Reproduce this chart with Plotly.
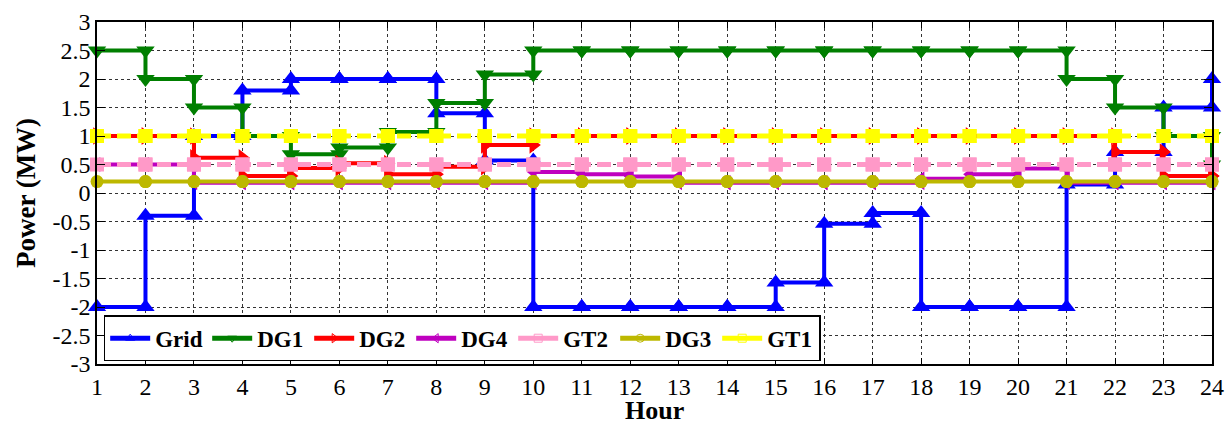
import plotly.graph_objects as go

hours = list(range(1, 25))

grid = [-2, -0.4, 1.0, 1.8, 2, 2, 2, 1.4, 0.57, -2, -2, -2, -2, -2, -1.57, -0.54,
        -0.35, -2, -2, -2, 0.15, 0.72, 1.5, 2.0]
dg1 = [2.5, 2.0, 1.5, 1.0, 0.68, 0.8, 1.07, 1.58, 2.08, 2.5, 2.5, 2.5, 2.5, 2.5, 2.5,
       2.5, 2.5, 2.5, 2.5, 2.5, 2.0, 1.5, 1.0, 0.5]
dg2 = [1.0, 1.0, 0.62, 0.3, 0.44, 0.52, 0.33, 0.46, 0.84, 1.0, 1.0, 1.0, 1.0, 1.0, 1.0,
       1.0, 1.0, 1.0, 1.0, 1.0, 1.0, 0.72, 0.3, 0.3]
dg4 = [0.5, 0.5, 0.18, 0.18, 0.18, 0.18, 0.18, 0.18, 0.18, 0.37, 0.33, 0.29, 0.18, 0.18,
       0.18, 0.18, 0.18, 0.25, 0.33, 0.43, 0.18, 0.18, 0.18, 0.18]
gt2 = [0.5] * 24
dg3 = [0.2] * 24
gt1 = [1.0] * 24

ytick_vals = [3, 2.5, 2, 1.5, 1, 0.5, 0, -0.5, -1, -1.5, -2, -2.5, -3]
ytick_text = ["3", "2.5", "2", "1.5", "1", "0.5", "0", "-0.5", "-1", "-1.5", "-2", "-2.5", "-3"]

series = [
    ("Grid", grid, "#0000FF", "triangle-up", 16, "solid", 4),
    ("DG1", dg1, "#007F00", "triangle-down", 16, "solid", 4),
    ("DG2", dg2, "#FF0000", "triangle-right", 15, "solid", 4),
    ("DG4", dg4, "#BF00BF", "triangle-left", 13, "solid", 4),
    ("GT2", gt2, "#FF99C8", "square", 14, "14px,6px", 5),
    ("DG3", dg3, "#BDB800", "circle", 13, "solid", 4),
    ("GT1", gt1, "#FFFF00", "square", 14, "14px,6px", 5),
]


def stairs(x, y):
    xs, ys = [], []
    for i in range(len(x) - 1):
        xs += [x[i], x[i + 1]]
        ys += [y[i], y[i]]
    xs.append(x[-1])
    ys.append(y[-1])
    return xs, ys


fig = go.Figure()
for name, vals, color, sym, msize, dash, lw in series:
    xs, ys = stairs(hours, vals)
    fig.add_trace(go.Scatter(
        x=xs, y=ys, mode="lines+markers", name=name, showlegend=False,
        line=dict(color=color, width=lw, dash=dash),
        marker=dict(symbol=sym, size=msize, color=color, line=dict(width=0)),
        cliponaxis=False,
    ))

for name, vals, color, sym, msize, dash, lw in series:
    fig.add_trace(go.Scatter(
        x=[None], y=[None], mode="lines+markers", name=name, showlegend=True,
        line=dict(color=color, width=5, dash="solid"),
        marker=dict(symbol=sym + "-open", size=8, color=color, line=dict(width=1)),
    ))

font_family = "'Liberation Serif', 'Times New Roman', Times, serif"
fig.update_layout(
    width=1231, height=426,
    margin=dict(l=97, r=19, t=22, b=62),
    paper_bgcolor="white", plot_bgcolor="white",
    font=dict(family=font_family, size=24, color="black"),
    showlegend=True,
    legend=dict(
        orientation="h", x=0.006, y=0.008, xanchor="left", yanchor="bottom",
        bgcolor="white", bordercolor="black", borderwidth=1.5,
        font=dict(family=font_family, size=23, color="black", weight="bold"),
        itemwidth=40, tracegroupgap=0, entrywidth=47,
    ),
    xaxis=dict(
        range=[1, 24], tickvals=hours, ticktext=[str(h) for h in hours],
        showgrid=True, gridcolor="#333333", griddash="3px,3px", gridwidth=1,
        showline=True, linecolor="black", linewidth=1.5, mirror="ticks",
        ticks="inside", ticklen=6, tickcolor="black",
        zeroline=False, automargin=False,
        tickfont=dict(family=font_family, size=24),
    ),
    yaxis=dict(
        range=[-3, 3], tickvals=ytick_vals, ticktext=ytick_text,
        showgrid=True, gridcolor="#333333", griddash="3px,3px", gridwidth=1,
        showline=True, linecolor="black", linewidth=1.5, mirror="ticks",
        ticks="inside", ticklen=8, tickcolor="black",
        zeroline=False, automargin=False,
        tickfont=dict(family=font_family, size=24),
        title=dict(text="Power (MW)", font=dict(family=font_family, size=27, weight="bold"), standoff=9),
    ),
    annotations=[dict(
        text="Hour", xref="paper", yref="paper", x=0.5, y=-0.1813,
        xanchor="center", yanchor="bottom", showarrow=False, borderpad=0,
        font=dict(family=font_family, size=26, weight="bold", color="black"),
    )],
)

fig.write_html("out.html")
